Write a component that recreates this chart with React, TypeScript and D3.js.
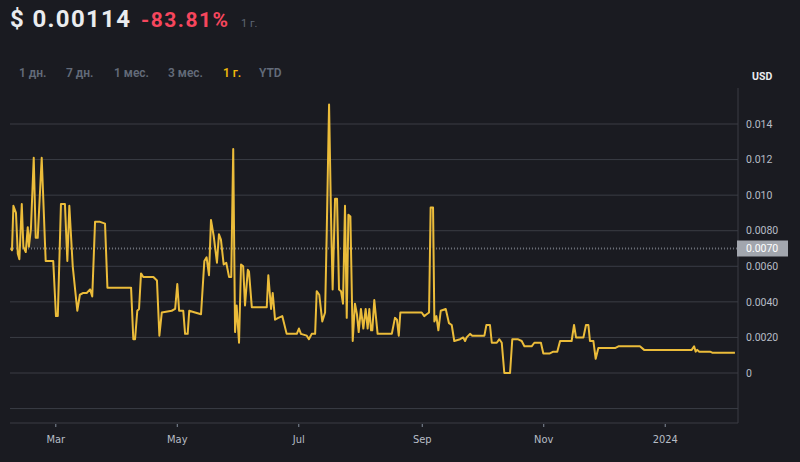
import React, { useRef, useEffect } from 'react';
import * as d3 from 'd3';

// day offsets from 2023-02-06 and the price read at that moment (USD)
const days = [
  0.5, 1.0, 1.7, 3.0, 3.9, 4.7, 5.9, 6.7, 7.9, 8.9, 9.5, 10.5, 11.9, 12.9, 13.9, 15.9, 17.9, 21.7,
  23.1, 24.0, 25.6, 27.6, 28.8, 29.8, 31.5, 33.8, 35.1, 36.8, 38.5, 40.2, 41.3, 42.7, 45.2, 47.7,
  48.9, 51.1, 54.4, 60.8, 61.9, 62.8, 63.9, 64.8, 65.8, 66.9, 72.0, 73.8, 75.0, 76.2, 81.2, 82.9,
  84.0, 84.9, 87.0, 87.9, 89.2, 90.0, 92.9, 95.9, 97.6, 98.7, 99.9, 100.9, 102.3, 103.9, 104.9,
  105.9, 107.3, 108.6, 110.0, 111.1, 112.1, 113.0, 113.8, 115.0, 116.0, 117.1, 118.0, 119.4, 120.0,
  121.4, 128.9, 129.7, 131.1, 131.9, 133.1, 134.7, 136.7, 138.9, 144.0, 145.1, 146.1, 149.0, 150.1,
  151.5, 153.2, 154.0, 155.3, 156.8, 158.2, 159.0, 160.2, 161.2, 162.0, 163.2, 164.2, 165.2, 166.2,
  167.2, 168.2, 169.1, 169.9, 170.9, 172.1, 173.2, 174.2, 175.1, 176.2, 177.4, 178.6, 179.6, 180.4,
  181.3, 181.9, 182.9, 184.6, 191.7, 193.3, 194.3, 195.2, 196.0, 206.7, 208.0, 209.2, 210.4, 211.2,
  212.4, 213.1, 214.1, 215.1, 216.3, 218.8, 220.4, 221.8, 223.1, 226.0, 227.6, 228.5, 229.3, 231.0,
  232.1, 238.2, 239.2, 241.0, 241.9, 244.4, 245.7, 246.9, 248.2, 251.1, 252.2, 254.9, 256.9, 258.3,
  261.9, 263.3, 266.6, 267.8, 271.1, 272.8, 274.8, 276.2, 282.0, 283.2, 284.2, 287.9, 289.2, 290.4,
  291.2, 292.9, 294.1, 295.4, 303.8, 305.5, 316.3, 318.4, 342.3, 343.5, 344.3, 345.1, 346.1, 351.5,
  352.6, 364.0,
];
const prices = [
  0.0070, 0.0069, 0.0094, 0.0090, 0.0067, 0.0064, 0.0095, 0.0071, 0.0068, 0.0082, 0.0071, 0.0081,
  0.0121, 0.0076, 0.0076, 0.0121, 0.0063, 0.0063, 0.0032, 0.0032, 0.0095, 0.0095, 0.0063, 0.0094,
  0.0060, 0.0035, 0.0044, 0.0045, 0.0045, 0.0047, 0.0043, 0.0085, 0.0085, 0.0084, 0.0048, 0.0048,
  0.0048, 0.0048, 0.0019, 0.0019, 0.0035, 0.0036, 0.0056, 0.0054, 0.0054, 0.0052, 0.0021, 0.0034,
  0.0035, 0.0036, 0.0050, 0.0035, 0.0035, 0.0022, 0.0022, 0.0035, 0.0034, 0.0033, 0.0063, 0.0065,
  0.0055, 0.0086, 0.0077, 0.0062, 0.0078, 0.0075, 0.0061, 0.0062, 0.0054, 0.0054, 0.0126, 0.0023,
  0.0038, 0.0017, 0.0061, 0.0060, 0.0038, 0.0058, 0.0057, 0.0037, 0.0037, 0.0055, 0.0036, 0.0045,
  0.0030, 0.0031, 0.0032, 0.0022, 0.0022, 0.0025, 0.0022, 0.0021, 0.0019, 0.0022, 0.0022, 0.0046,
  0.0044, 0.0029, 0.0034, 0.0077, 0.0151, 0.0087, 0.0047, 0.0098, 0.0098, 0.0047, 0.0046, 0.0039,
  0.0094, 0.0031, 0.0089, 0.0088, 0.0018, 0.0039, 0.0033, 0.0023, 0.0036, 0.0025, 0.0036, 0.0025,
  0.0036, 0.0024, 0.0024, 0.0041, 0.0022, 0.0022, 0.0031, 0.0030, 0.0021, 0.0034, 0.0034, 0.0032,
  0.0033, 0.0034, 0.0093, 0.0093, 0.0029, 0.0032, 0.0024, 0.0035, 0.0036, 0.0028, 0.0027, 0.0018,
  0.0019, 0.0020, 0.0018, 0.0020, 0.0022, 0.0021, 0.0021, 0.0027, 0.0027, 0.0017, 0.0017, 0.0019,
  0.0017, 0.0000, 0.0000, 0.0019, 0.0019, 0.0018, 0.0015, 0.0015, 0.0017, 0.0017, 0.0011, 0.0011,
  0.0012, 0.0012, 0.0018, 0.0018, 0.0027, 0.0020, 0.0020, 0.0027, 0.0027, 0.0018, 0.0018, 0.0008,
  0.0014, 0.0014, 0.0015, 0.0015, 0.0013, 0.0013, 0.0015, 0.0012, 0.0013, 0.0012, 0.0012, 0.00114,
  0.00114,
];

const yTicks = [-0.002, 0, 0.002, 0.004, 0.006, 0.008, 0.01, 0.012, 0.014];
const yTickLabels = ['', '0', '0.0020', '0.0040', '0.0060', '0.0080', '0.010', '0.012', '0.014'];
const xTicks = ['2023-03-01', '2023-05-01', '2023-07-01', '2023-09-01', '2023-11-01', '2024-01-01'];
const xTickLabels = ['Mar', 'May', 'Jul', 'Sep', 'Nov', '2024'];
const ranges = ['1 дн.', '7 дн.', '1 мес.', '3 мес.', '1 г.', 'YTD'];
const rangeX = [19, 66, 114, 168, 223, 259];
const baseValue = 0.007;

const W = 800;
const H = 462;

const App: React.FC = () => {
  const svgRef = useRef<SVGSVGElement | null>(null);

  useEffect(() => {
    if (!svgRef.current) return;
    const svg = d3.select(svgRef.current);
    svg.selectAll('*').remove();

    const parse = d3.timeParse('%Y-%m-%d');
    const start = new Date(2023, 1, 6);
    const data = days.map((d, i) => ({ date: d3.timeHour.offset(start, Math.round(d * 24)), value: prices[i] }));

    const left = 10;
    const right = 738;
    const top = 88;
    const bottom = 423;

    const x = d3.scaleTime()
      .domain([start, new Date(2024, 1, 6, 13)])
      .range([left, right]);

    const y = d3.scaleLinear()
      .domain([0, 0.014])
      .range([373, 124]);

    svg.append('rect').attr('width', W).attr('height', H).attr('fill', '#1a1b21');

    // header
    svg.append('text').attr('x', 10).attr('y', 26.5)
      .attr('font-family', 'Roboto, sans-serif').attr('font-size', 24).attr('font-weight', 700)
      .attr('fill', '#eaecef').attr('textLength', 120).text('$ 0.00114');
    svg.append('text').attr('x', 141).attr('y', 26.5)
      .attr('font-family', 'Roboto, sans-serif').attr('font-size', 21).attr('font-weight', 700)
      .attr('fill', '#f6465d').attr('textLength', 87).text('-83.81%');
    svg.append('text').attr('x', 241).attr('y', 26.5)
      .attr('font-family', 'Roboto, sans-serif').attr('font-size', 11)
      .attr('fill', '#5e6673').text('1 г.');

    ranges.forEach((r, i) => {
      svg.append('text').attr('x', rangeX[i]).attr('y', 76.5)
        .attr('font-family', 'Roboto, sans-serif').attr('font-size', 12).attr('font-weight', 600)
        .attr('fill', r === '1 г.' ? '#f0b90b' : '#636b79').text(r);
    });

    svg.append('text').attr('x', 752).attr('y', 80)
      .attr('font-family', 'Roboto, sans-serif').attr('font-size', 10.5).attr('font-weight', 700)
      .attr('fill', '#eaecef').text('USD');

    // grid
    svg.append('g').selectAll('line').data(yTicks).join('line')
      .attr('x1', left).attr('x2', right)
      .attr('y1', d => y(d)).attr('y2', d => y(d))
      .attr('stroke', '#3a3d45').attr('stroke-width', 1);

    // frame
    svg.append('line').attr('x1', right).attr('x2', right).attr('y1', top).attr('y2', bottom)
      .attr('stroke', '#3a3d45');
    svg.append('line').attr('x1', left).attr('x2', right).attr('y1', bottom).attr('y2', bottom)
      .attr('stroke', '#3a3d45');

    // y labels
    svg.append('g').selectAll('text').data(yTicks).join('text')
      .attr('x', 746).attr('y', d => y(d)).attr('dy', '0.35em')
      .attr('font-family', 'Roboto, sans-serif').attr('font-size', 10.5)
      .attr('fill', '#b7bdc6')
      .text((_, i) => yTickLabels[i]);

    // x ticks
    const xg = svg.append('g');
    xTicks.forEach((t, i) => {
      const xp = x(parse(t) as Date);
      xg.append('line').attr('x1', xp).attr('x2', xp).attr('y1', bottom + 1).attr('y2', bottom + 4)
        .attr('stroke', '#848e9c');
      xg.append('text').attr('x', xp).attr('y', 443).attr('text-anchor', 'middle')
        .attr('font-family', "'DejaVu Sans Condensed', Roboto, sans-serif").attr('font-size', 11)
        .attr('fill', '#b7bdc6').text(xTickLabels[i]);
    });

    // baseline area (above the base value)
    const defs = svg.append('defs');
    defs.append('clipPath').attr('id', 'above')
      .append('rect').attr('x', left).attr('y', top).attr('width', right - left).attr('height', y(baseValue) - top);
    const grad = defs.append('linearGradient').attr('id', 'fillUp').attr('x1', 0).attr('x2', 0).attr('y1', 0).attr('y2', 1);
    grad.append('stop').attr('offset', '0%').attr('stop-color', '#ffffff').attr('stop-opacity', 0.02);
    grad.append('stop').attr('offset', '100%').attr('stop-color', '#ffffff').attr('stop-opacity', 0.08);

    const area = d3.area<{ date: Date; value: number }>()
      .x(d => x(d.date))
      .y0(y(baseValue))
      .y1(d => y(d.value));
    svg.append('path').datum(data).attr('d', area).attr('fill', 'url(#fillUp)').attr('clip-path', 'url(#above)');

    // base line
    svg.append('line').attr('x1', left).attr('x2', right).attr('y1', y(baseValue)).attr('y2', y(baseValue))
      .attr('stroke', '#6b6f78').attr('stroke-width', 2).attr('stroke-dasharray', '1,2');

    const line = d3.line<{ date: Date; value: number }>()
      .x(d => x(d.date))
      .y(d => y(d.value));
    svg.append('path').datum(data)
      .attr('fill', 'none').attr('stroke', '#ebbc3a').attr('stroke-width', 2)
      .attr('stroke-linejoin', 'round').attr('d', line);

    // base value label
    svg.append('rect').attr('x', 737).attr('y', y(baseValue) - 8).attr('width', 51).attr('height', 16)
      .attr('fill', '#a2a6ae');
    svg.append('text').attr('x', 746).attr('y', y(baseValue)).attr('dy', '0.35em')
      .attr('font-family', 'Roboto, sans-serif').attr('font-size', 10.5)
      .attr('fill', '#ffffff').text('0.0070');
  }, []);

  return (
    <svg ref={svgRef} width={W} height={H} style={{ position: 'absolute', left: 0, top: 0 }} />
  );
};

export default App;
